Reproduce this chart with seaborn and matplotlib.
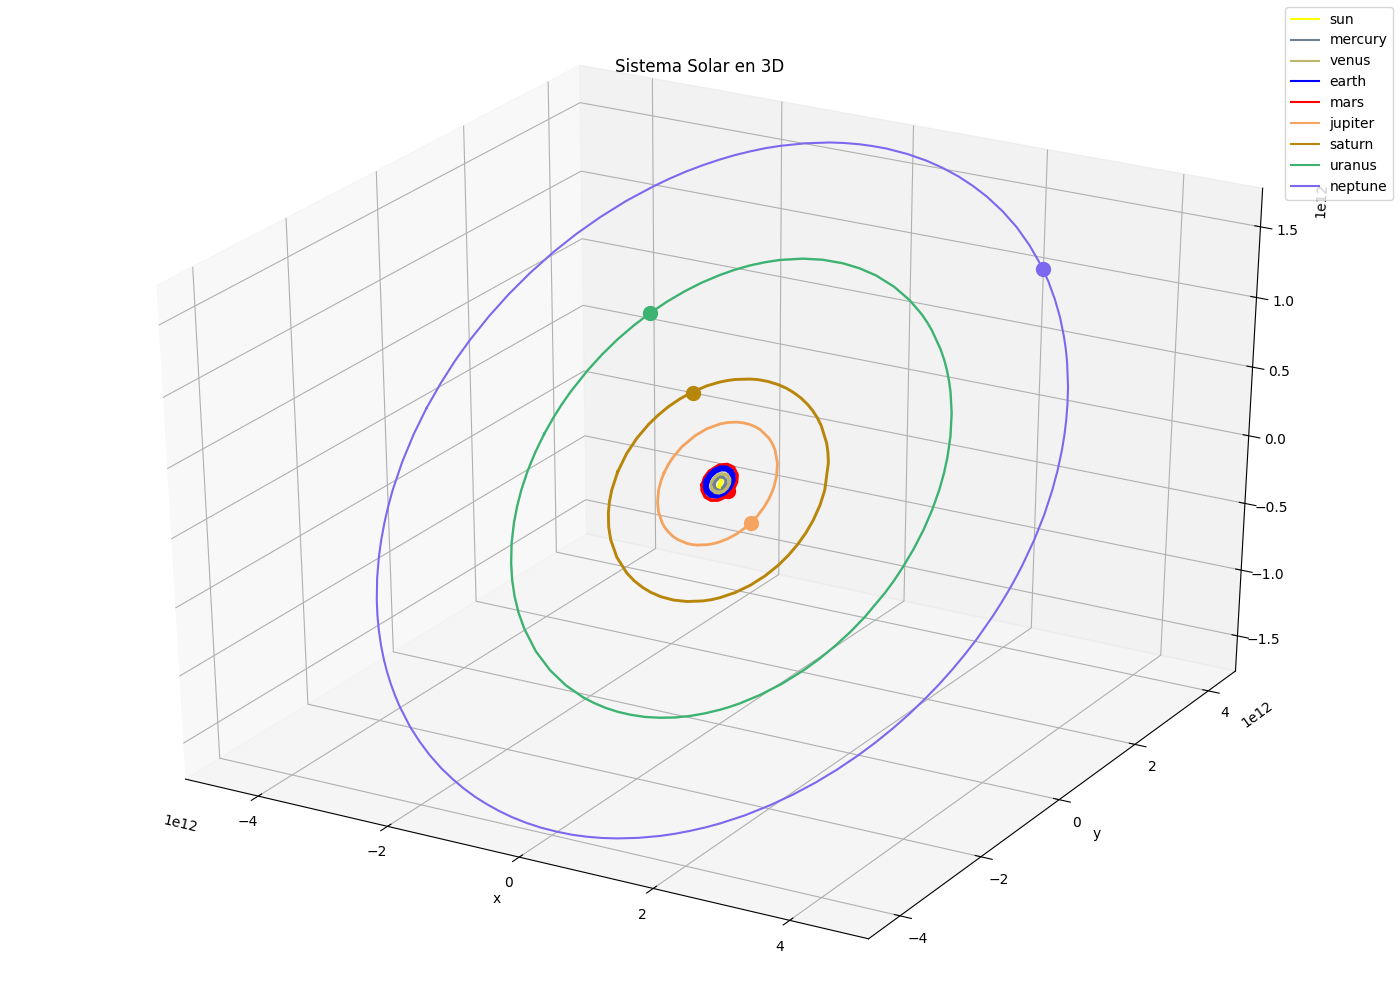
import matplotlib
matplotlib.use("Agg")
import matplotlib.pyplot as plt
import numpy as np
import seaborn as sns

# values, in units of 1e12
sun_x = [-0.041, -0.034, -0.030, -0.026]
sun_y = [0.116, 0.092, 0.067, 0.049]
sun_z = [0.014, 0.005, -0.005, -0.012]

mercury_x = [-0.105, -0.077, -0.038, 0.001, 0.032, 0.036, 0.013, -0.037, -0.073, -0.094, -0.113]
mercury_y = [0.054, 0.024, 0.014, 0.024, 0.059, 0.107, 0.146, 0.164, 0.155, 0.139, 0.088]
mercury_z = [-0.006, -0.019, -0.025, -0.023, -0.011, 0.007, 0.023, 0.032, 0.031, 0.026, 0.007]

venus_x = [-0.147, -0.125, -0.097, -0.041, 0.013, 0.058, 0.082, 0.082, 0.053, -0.008, -0.081, -0.118, -0.142]
venus_y = [0.076, 0.020, -0.006, -0.027, -0.019, 0.013, 0.060, 0.119, 0.170, 0.204, 0.195, 0.168, 0.127]
venus_z = [0.004, -0.018, -0.029, -0.040, -0.040, -0.030, -0.013, 0.009, 0.030, 0.046, 0.046, 0.038, 0.024]

earth_x = [-0.224, -0.196, -0.145, -0.074, 0.007, 0.080, 0.112, 0.106, 0.068, 0.018, -0.054, -0.128, -0.189, -0.225]
earth_y = [0.059, -0.003, -0.049, -0.071, -0.057, 0.001, 0.081, 0.156, 0.220, 0.255, 0.272, 0.256, 0.209, 0.136]
earth_z = [0.002, -0.023, -0.043, -0.055, -0.054, -0.036, -0.006, 0.022, 0.048, 0.064, 0.074, 0.072, 0.057, 0.031]

mars_x = [-0.257, -0.224, -0.136, -0.040, 0.053, 0.132, 0.174, 0.167, 0.126, 0.027, -0.071, -0.175, -0.257, -0.275]
mars_y = [0.008, -0.048, -0.112, -0.129, -0.104, -0.036, 0.080, 0.157, 0.237, 0.308, 0.320, 0.283, 0.183, 0.095]
mars_z = [-0.016, -0.039, -0.068, -0.079, -0.074, -0.052, -0.010, 0.020, 0.052, 0.084, 0.093, 0.084, 0.051, 0.018]

jupiter_x = [-0.836, -0.820, -0.788, -0.713, -0.634, -0.514, -0.452, -0.365, -0.275, -0.203, -0.060, 0.023, 0.088, 0.226,
             0.308, 0.363, 0.445, 0.528, 0.590, 0.634, 0.667, 0.693, 0.700, 0.690, 0.683, 0.643, 0.566, 0.445,
             0.368, 0.285, 0.114, 0.028, -0.064, -0.156, -0.243, -0.354, -0.447, -0.584, -0.689, -0.785, -0.826, -0.838]
jupiter_y = [0.012, -0.090, -0.196, -0.342, -0.441, -0.546, -0.586, -0.628, -0.659, -0.676, -0.687, -0.682, -0.671, -0.629,
             -0.590, -0.556, -0.493, -0.406, -0.319, -0.234, -0.147, -0.029, 0.081, 0.194, 0.231, 0.360, 0.504, 0.642,
             0.702, 0.752, 0.817, 0.833, 0.839, 0.835, 0.821, 0.787, 0.743, 0.646, 0.531, 0.360, 0.216, 0.115]
jupiter_z = [0.014, -0.025, -0.067, -0.126, -0.168, -0.214, -0.232, -0.252, -0.269, -0.278, -0.290, -0.292, -0.291, -0.282,
             -0.271, -0.261, -0.241, -0.213, -0.182, -0.153, -0.121, -0.077, -0.036, 0.007, 0.022, 0.073, 0.131, 0.190,
             0.217, 0.240, 0.273, 0.283, 0.290, 0.293, 0.292, 0.285, 0.273, 0.243, 0.204, 0.144, 0.092, 0.054]

saturn_x = [-1.447, -1.397, -1.344, -1.282, -1.182, -1.066, -0.866, -0.625, -0.476, -0.322, -0.188, -0.026, 0.160,
            0.347, 0.545, 0.653, 0.743, 0.903, 1.048, 1.172, 1.272, 1.332, 1.377, 1.405, 1.414, 1.399,
            1.358, 1.220, 1.148, 1.064, 0.877, 0.771, 0.658, 0.553, 0.424, 0.300, 0.174, 0.037, -0.120,
            -0.263, -0.372, -0.559, -0.644, -0.738, -0.882, -1.026, -1.143, -1.239, -1.315, -1.375, -1.431, -1.457]
saturn_y = [-0.138, -0.359, -0.500, -0.622, -0.774, -0.908, -1.079, -1.219, -1.278, -1.321, -1.346, -1.359, -1.352,
            -1.322, -1.261, -1.214, -1.166, -1.058, -0.926, -0.775, -0.609, -0.470, -0.322, -0.165, 0.000, 0.186,
            0.369, 0.680, 0.788, 0.892, 1.066, 1.142, 1.207, 1.257, 1.306, 1.340, 1.364, 1.377, 1.378,
            1.364, 1.344, 1.289, 1.255, 1.210, 1.122, 1.007, 0.886, 0.760, 0.630, 0.496, 0.304, 0.096]
saturn_z = [-0.012, -0.098, -0.154, -0.204, -0.267, -0.324, -0.399, -0.464, -0.494, -0.518, -0.534, -0.547, -0.554,
            -0.551, -0.538, -0.526, -0.512, -0.479, -0.436, -0.385, -0.327, -0.277, -0.223, -0.165, -0.102, -0.031,
            0.041, 0.166, 0.210, 0.254, 0.329, 0.363, 0.394, 0.418, 0.443, 0.462, 0.478, 0.490, 0.498,
            0.500, 0.497, 0.486, 0.477, 0.465, 0.439, 0.402, 0.362, 0.319, 0.273, 0.225, 0.155, 0.078]

uranus_x = [-2.677, -2.665, -2.633, -2.581, -2.523, -2.446, -2.334, -2.201, -2.069, -1.924, -1.757, -1.567, -1.266,
            -0.950, -0.640, -0.333, -0.158, 0.031, 0.212, 0.391, 0.595, 0.789, 0.977, 1.157, 1.332, 1.499,
            1.606, 1.710, 1.906, 2.112, 2.294, 2.422, 2.537, 2.636, 2.719, 2.814, 2.848, 2.871, 2.887,
            2.885, 2.862, 2.819, 2.767, 2.704, 2.603, 2.464, 2.309, 2.219, 2.114, 2.011, 1.896, 1.650,
            1.541, 1.412, 1.162, 0.868, 0.557, 0.291, 0.040, -0.248, -0.515, -0.804, -0.985, -1.159, -1.326,
            -1.486, -1.669, -1.834, -1.996, -2.138, -2.265, -2.380, -2.476, -2.556, -2.629, -2.654, -2.671]
uranus_y = [0.032, -0.197, -0.437, -0.671, -0.860, -1.059, -1.290, -1.510, -1.692, -1.862, -2.028, -2.186, -2.387,
            -2.544, -2.653, -2.722, -2.745, -2.758, -2.757, -2.745, -2.716, -2.674, -2.618, -2.551, -2.470, -2.379,
            -2.312, -2.241, -2.085, -1.885, -1.669, -1.487, -1.290, -1.087, -0.879, -0.551, -0.380, -0.207, 0.026,
            0.269, 0.513, 0.756, 0.959, 1.147, 1.386, 1.644, 1.872, 1.986, 2.105, 2.209, 2.312, 2.499,
            2.569, 2.642, 2.759, 2.859, 2.926, 2.952, 2.953, 2.925, 2.871, 2.780, 2.704, 2.617, 2.519,
            2.410, 2.263, 2.108, 1.930, 1.745, 1.550, 1.338, 1.119, 0.888, 0.586, 0.420, 0.249]
uranus_z = [0.114, 0.026, -0.066, -0.158, -0.233, -0.312, -0.405, -0.496, -0.572, -0.643, -0.715, -0.784, -0.876,
            -0.951, -1.008, -1.050, -1.067, -1.081, -1.090, -1.094, -1.094, -1.087, -1.076, -1.059, -1.037, -1.011,
            -0.991, -0.969, -0.919, -0.854, -0.781, -0.718, -0.649, -0.577, -0.502, -0.382, -0.319, -0.254, -0.166,
            -0.074, 0.020, 0.114, 0.194, 0.269, 0.365, 0.470, 0.564, 0.612, 0.662, 0.707, 0.752, 0.835,
            0.867, 0.902, 0.959, 1.011, 1.052, 1.075, 1.088, 1.092, 1.085, 1.065, 1.045, 1.021, 0.992,
            0.958, 0.912, 0.861, 0.801, 0.738, 0.670, 0.596, 0.517, 0.433, 0.322, 0.261, 0.196]

neptune_x = [-4.419, -4.401, -4.354, -4.278, -4.221, -4.156, -4.071, -3.981, -3.852, -3.701, -3.585, -3.461, -3.327, -3.186,
             -3.062, -2.933, -2.795, -2.656, -2.370, -2.147, -1.918, -1.683, -1.444, -1.239, -1.041, -0.839, -0.636, -0.428,
             -0.206, 0.020, 0.245, 0.457, 0.661, 0.859, 1.055, 1.319, 1.584, 1.758, 1.928, 2.095, 2.257, 2.518,
             2.765, 2.977, 3.188, 3.377, 3.547, 3.685, 3.808, 3.920, 4.019, 4.096, 4.166, 4.226, 4.274, 4.328,
             4.347, 4.360, 4.366, 4.367, 4.350, 4.312, 4.252, 4.188, 4.111, 4.043, 3.968, 3.878, 3.772, 3.594,
             3.497, 3.386, 3.209, 3.023, 2.818, 2.600, 2.334, 2.048, 1.757, 1.458, 1.199, 0.945, 0.674, 0.422,
             0.126, -0.189, -0.386, -0.565, -0.769, -0.968, -1.291, -1.603, -1.785, -1.962, -2.134, -2.303, -2.488, -2.667,
             -2.840, -2.996, -3.251, -3.483, -3.681, -3.855, -4.012, -4.145, -4.250, -4.332, -4.379, -4.410]
neptune_y = [-0.089, -0.424, -0.775, -1.119, -1.312, -1.502, -1.714, -1.908, -2.148, -2.389, -2.553, -2.710, -2.866, -3.014,
             -3.133, -3.246, -3.359, -3.463, -3.651, -3.775, -3.887, -3.984, -4.067, -4.126, -4.173, -4.211, -4.240, -4.260,
             -4.270, -4.269, -4.256, -4.234, -4.203, -4.163, -4.115, -4.035, -3.937, -3.862, -3.780, -3.690, -3.595, -3.421,
             -3.230, -3.042, -2.831, -2.614, -2.390, -2.187, -1.980, -1.769, -1.551, -1.358, -1.155, -0.948, -0.745, -0.434,
             -0.272, -0.103, 0.051, 0.205, 0.530, 0.835, 1.134, 1.371, 1.603, 1.777, 1.947, 2.128, 2.319, 2.593,
             2.725, 2.864, 3.064, 3.248, 3.428, 3.595, 3.771, 3.931, 4.066, 4.178, 4.256, 4.315, 4.361, 4.389,
             4.402, 4.395, 4.379, 4.356, 4.322, 4.279, 4.188, 4.076, 3.998, 3.912, 3.820, 3.720, 3.599, 3.469,
             3.329, 3.190, 2.934, 2.660, 2.386, 2.102, 1.796, 1.478, 1.159, 0.826, 0.548, 0.239]
neptune_z = [0.155, 0.027, -0.109, -0.243, -0.319, -0.395, -0.480, -0.558, -0.655, -0.755, -0.823, -0.889, -0.954, -1.018,
             -1.069, -1.119, -1.168, -1.215, -1.301, -1.359, -1.413, -1.462, -1.505, -1.538, -1.566, -1.590, -1.611, -1.629,
             -1.644, -1.655, -1.661, -1.664, -1.662, -1.657, -1.648, -1.631, -1.607, -1.587, -1.564, -1.539, -1.511, -1.458,
             -1.397, -1.337, -1.267, -1.194, -1.118, -1.047, -0.975, -0.900, -0.822, -0.753, -0.679, -0.603, -0.529, -0.413,
             -0.352, -0.289, -0.231, -0.172, -0.048, 0.070, 0.187, 0.280, 0.372, 0.441, 0.510, 0.583, 0.661, 0.774,
             0.829, 0.887, 0.972, 1.051, 1.130, 1.204, 1.284, 1.360, 1.425, 1.483, 1.525, 1.561, 1.592, 1.615,
             1.635, 1.648, 1.651, 1.652, 1.649, 1.643, 1.624, 1.597, 1.577, 1.553, 1.527, 1.497, 1.460, 1.420,
             1.375, 1.330, 1.246, 1.153, 1.059, 0.960, 0.851, 0.737, 0.621, 0.499, 0.396, 0.279]

names = ["sun", "mercury", "venus", "earth", "mars", "jupiter", "saturn", "uranus", "neptune"]
orbit_x = [sun_x, mercury_x, venus_x, earth_x, mars_x, jupiter_x, saturn_x, uranus_x, neptune_x]
orbit_y = [sun_y, mercury_y, venus_y, earth_y, mars_y, jupiter_y, saturn_y, uranus_y, neptune_y]
orbit_z = [sun_z, mercury_z, venus_z, earth_z, mars_z, jupiter_z, saturn_z, uranus_z, neptune_z]

# current planet positions (only the outer ones show)
body_names = ["mars", "jupiter", "saturn", "uranus", "neptune"]
body_x = [0.118, 0.634, -1.014, -2.139, 2.666]
body_y = [0.030, -0.244, 0.996, 1.745, 3.549]
body_z = [-0.027, -0.156, 0.397, 0.738, 1.184]

color_list = ["#FFFF00", "#708090", "#BDB76B", "#0000FF", "#FF0000", "#F4A460", "#B8860B", "#3CB371", "#7B68EE"]
widths = [3.0, 2.2, 2.8, 4.4, 2.6, 2.0, 2.1, 1.7, 1.5]

sns.reset_defaults()
palette = dict(zip(names, sns.color_palette(color_list)))
scale = 1e12

fig = plt.figure(figsize=(14, 10), dpi=100)
ax = fig.add_axes([0, 0, 1, 1], projection="3d", computed_zorder=False)
# stretch the cube over the whole figure instead of keeping it square
ax.apply_aspect = lambda position=None: None
ax.set_box_aspect((1, 1, 1), zoom=0.947)

for i, name in enumerate(names):
    closed = name != "sun"
    xs = np.array(orbit_x[i] + orbit_x[i][:1] * closed) * scale
    ys = np.array(orbit_y[i] + orbit_y[i][:1] * closed) * scale
    zs = np.array(orbit_z[i] + orbit_z[i][:1] * closed) * scale
    ax.plot(xs, ys, zs, color=palette[name], lw=widths[i], label=name, zorder=20 - i)

for name, bx, by, bz in zip(body_names, body_x, body_y, body_z):
    z_rank = 20 - names.index(name) - 0.5
    ax.plot([bx * scale], [by * scale], [bz * scale], "o", ms=10, color=palette[name], zorder=z_rank)

ax.set_xlim(-5.14e12, 5.14e12, view_margin=0)
ax.set_ylim(-4.76e12, 4.76e12, view_margin=0)
ax.set_zlim(-1.77e12, 1.77e12, view_margin=0)
ax.set_xticks(np.arange(-4, 5, 2) * scale)
ax.set_yticks(np.arange(-4, 5, 2) * scale)
ax.set_zticks(np.arange(-1.5, 1.6, 0.5) * scale)
ax.set_xlabel("x")
ax.set_ylabel("y")
ax.set_title("Sistema Solar en 3D", y=1.0)

leg = ax.legend(loc="upper right")
for line in leg.get_lines():
    line.set_linewidth(1.5)

fig.savefig("out.png", dpi=100)
